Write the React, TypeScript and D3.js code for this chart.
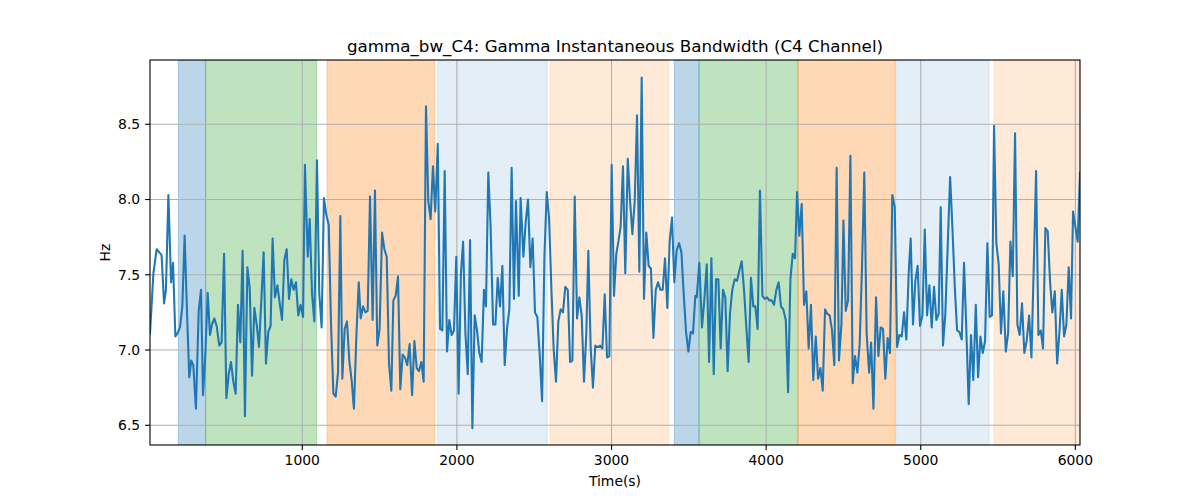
import * as d3 from 'd3';
import React from 'react';

// sample times (s) and gamma bandwidth (Hz)
const timeSec: number[] = [
  15, 37, 58, 90, 106, 118, 134, 151, 164, 179, 192, 209, 224, 239, 256, 269, 282, 295, 312, 330,
  345, 358, 373, 388, 403, 416, 431, 446, 463, 478, 494, 509, 524, 539, 554, 569, 584, 599, 614, 629,
  645, 660, 675, 690, 705, 720, 735, 750, 765, 780, 795, 808, 823, 839, 854, 869, 884, 899, 914, 929,
  944, 959, 974, 989, 1005, 1017, 1035, 1048, 1063, 1078, 1095, 1110, 1125, 1140, 1155, 1171, 1186, 1201, 1216, 1231,
  1246, 1259, 1274, 1289, 1304, 1319, 1334, 1350, 1365, 1378, 1393, 1408, 1423, 1438, 1455, 1470, 1485, 1500, 1516, 1531,
  1546, 1561, 1576, 1589, 1604, 1619, 1634, 1649, 1664, 1679, 1694, 1710, 1725, 1740, 1755, 1770, 1785, 1800, 1815, 1830,
  1845, 1860, 1876, 1891, 1906, 1921, 1936, 1951, 1966, 1981, 1996, 2011, 2026, 2040, 2055, 2070, 2085, 2100, 2115, 2130,
  2145, 2160, 2175, 2188, 2203, 2218, 2234, 2249, 2264, 2279, 2294, 2309, 2324, 2339, 2354, 2369, 2382, 2400, 2412, 2430,
  2445, 2460, 2475, 2490, 2505, 2520, 2535, 2551, 2566, 2581, 2596, 2611, 2626, 2641, 2656, 2671, 2686, 2701, 2717, 2732,
  2747, 2762, 2777, 2792, 2807, 2822, 2837, 2850, 2865, 2880, 2895, 2911, 2926, 2941, 2956, 2971, 2986, 3001, 3016, 3031,
  3046, 3059, 3074, 3089, 3105, 3120, 3135, 3150, 3165, 3180, 3195, 3210, 3225, 3240, 3255, 3271, 3286, 3301, 3316, 3331,
  3346, 3361, 3376, 3391, 3406, 3421, 3437, 3452, 3467, 3482, 3497, 3512, 3527, 3542, 3551, 3568, 3585, 3600, 3616, 3631,
  3646, 3661, 3676, 3691, 3706, 3721, 3736, 3751, 3766, 3781, 3797, 3812, 3827, 3842, 3857, 3872, 3887, 3902, 3917, 3930,
  3945, 3960, 3976, 3991, 4006, 4021, 4036, 4051, 4066, 4081, 4096, 4111, 4127, 4142, 4157, 4172, 4187, 4200, 4215, 4230,
  4245, 4260, 4275, 4290, 4305, 4321, 4336, 4351, 4366, 4381, 4396, 4411, 4426, 4441, 4456, 4471, 4487, 4500, 4515, 4530,
  4545, 4560, 4575, 4590, 4605, 4620, 4635, 4650, 4666, 4679, 4694, 4711, 4726, 4741, 4756, 4771, 4786, 4801, 4816, 4832,
  4847, 4862, 4877, 4892, 4907, 4922, 4935, 4950, 4965, 4980, 4995, 5011, 5026, 5041, 5056, 5071, 5086, 5101, 5116, 5129,
  5144, 5159, 5174, 5190, 5205, 5220, 5235, 5250, 5265, 5280, 5295, 5310, 5325, 5340, 5356, 5371, 5386, 5401, 5416, 5431,
  5446, 5461, 5474, 5489, 5504, 5519, 5534, 5550, 5565, 5580, 5595, 5610, 5625, 5640, 5655, 5670, 5685, 5701, 5716, 5731,
  5746, 5761, 5776, 5791, 5806, 5821, 5836, 5851, 5867, 5882, 5897, 5912, 5927, 5942, 5957, 5972, 5985, 6000, 6015, 6030,
];

const gammaBw: number[] = [
  7.11, 7.51, 7.67, 7.63, 7.31, 7.4, 8.03, 7.45, 7.58, 7.09, 7.11, 7.15, 7.29, 7.76, 7.2, 6.82, 6.93, 6.9, 6.61, 7.26,
  7.4, 6.7, 6.97, 7.38, 7.1, 7.17, 7.21, 7.16, 7.03, 7.05, 7.64, 6.68, 6.84, 6.92, 6.79, 6.71, 7.3, 7.05, 7.66, 6.56,
  7.55, 7.41, 6.83, 7.28, 7.17, 7.02, 7.33, 7.65, 6.91, 7.12, 7.16, 7.74, 7.35, 7.43, 7.31, 7.2, 7.6, 7.67, 7.34, 7.47,
  7.4, 7.45, 7.23, 7.3, 7.22, 8.23, 7.62, 7.87, 7.37, 7.19, 8.26, 7.37, 7.15, 8.01, 7.9, 7.83, 7.17, 6.71, 6.69, 6.85,
  7.89, 6.81, 7.14, 7.19, 6.93, 6.8, 6.61, 7.1, 7.45, 7.21, 7.29, 7.25, 7.26, 8.02, 7.2, 8.06, 7.03, 7.14, 7.78, 7.67,
  7.62, 6.91, 6.73, 7.33, 7.36, 7.49, 6.74, 6.97, 6.95, 6.9, 7.04, 6.7, 7.06, 6.88, 6.86, 6.92, 6.79, 8.62, 7.99, 7.87,
  8.22, 7.92, 8.37, 7.14, 7.13, 8.19, 6.99, 7.2, 7.1, 7.13, 7.62, 6.71, 7.51, 7.72, 7.11, 6.84, 7.73, 6.48, 7.23, 7.13,
  6.98, 6.92, 7.4, 7.29, 8.18, 7.82, 7.17, 7.17, 7.48, 7.29, 7.56, 6.9, 7.14, 7.27, 8.21, 7.34, 7.99, 7.36, 8.01, 7.62,
  7.85, 8.0, 7.55, 7.74, 7.25, 7.22, 6.98, 6.66, 7.62, 8.05, 7.88, 7.41, 7.0, 6.79, 7.19, 7.27, 7.25, 7.42, 7.4, 6.92,
  6.93, 8.02, 7.21, 7.35, 7.23, 6.79, 7.11, 7.66, 7.02, 6.75, 7.03, 7.02, 7.03, 7.01, 7.37, 6.95, 6.96, 8.23, 7.36, 7.64,
  7.73, 7.82, 8.22, 7.51, 8.27, 7.99, 7.77, 7.99, 8.56, 7.52, 8.81, 7.34, 7.78, 7.56, 7.54, 7.08, 7.4, 7.45, 7.4, 7.4,
  7.61, 7.28, 7.72, 7.88, 7.45, 7.66, 7.71, 7.65, 7.37, 7.12, 6.99, 7.12, 7.11, 7.36, 7.35, 7.58, 7.15, 7.33, 7.57, 6.92,
  7.61, 6.84, 7.47, 7.47, 7.01, 7.4, 7.35, 6.86, 7.24, 7.4, 7.47, 7.46, 7.53, 7.59, 7.4, 7.15, 6.92, 7.48, 7.29, 7.29,
  7.14, 8.06, 7.36, 7.34, 7.35, 7.33, 7.33, 7.3, 7.4, 7.45, 7.29, 7.27, 7.2, 6.72, 7.47, 7.64, 7.61, 8.05, 7.76, 7.97,
  7.3, 7.39, 7.01, 7.3, 6.8, 7.09, 6.81, 6.88, 6.73, 7.27, 7.24, 7.23, 7.13, 6.9, 8.21, 6.93, 7.17, 7.86, 7.26, 7.33,
  8.29, 6.78, 6.96, 6.85, 7.04, 7.55, 8.18, 7.11, 6.85, 7.05, 6.61, 7.35, 6.96, 7.15, 7.14, 6.81, 7.08, 6.98, 8.03, 7.95,
  7.02, 7.1, 7.09, 7.25, 7.07, 7.51, 7.74, 7.17, 7.46, 7.56, 7.16, 7.23, 7.8, 7.23, 7.43, 7.15, 7.42, 7.2, 7.24, 7.95,
  7.03, 7.24, 7.68, 8.15, 7.81, 7.42, 7.13, 7.12, 7.07, 7.58, 7.13, 6.64, 7.1, 6.8, 7.3, 6.82, 7.09, 6.98, 7.06, 7.71,
  7.22, 7.23, 8.49, 7.71, 7.57, 7.11, 7.39, 6.99, 7.11, 7.72, 7.49, 8.44, 7.17, 7.1, 7.31, 6.98, 7.06, 7.23, 6.95, 7.56,
  8.19, 7.1, 7.13, 7.01, 7.81, 7.79, 7.46, 7.25, 7.39, 6.91, 7.12, 7.4, 7.09, 7.17, 7.55, 7.21, 7.92, 7.82, 7.72, 8.18,
];

// shaded segments
const bandStart: number[] = [198, 375, 1160, 1876, 2602, 3406, 3566, 4206, 4838, 5474];
const bandEnd: number[] = [375, 1093, 1858, 2585, 3370, 3566, 4206, 4834, 5442, 6030];
const bandKind: string[] = ['blue', 'green', 'orange', 'paleBlue', 'paleOrange', 'blue', 'green', 'orange', 'paleBlue', 'paleOrange'];

const xTicks: number[] = [1000, 2000, 3000, 4000, 5000, 6000];
const yTicks: number[] = [6.5, 7.0, 7.5, 8.0, 8.5];

const bandStyle: Record<string, { color: string; opacity: number }> = {
  blue: { color: '#1f77b4', opacity: 0.3 },
  green: { color: '#2ca02c', opacity: 0.3 },
  orange: { color: '#ff7f0e', opacity: 0.3 },
  paleBlue: { color: '#1f77b4', opacity: 0.12 },
  paleOrange: { color: '#ff7f0e', opacity: 0.16 },
};

const width = 1200;
const height = 500;
const margin = { top: 60, right: 120, bottom: 55, left: 150 };
const font = 'DejaVu Sans, sans-serif';

const App: React.FC = () => {
  const x = d3.scaleLinear().domain([15, 6030]).range([margin.left, width - margin.right]);
  const y = d3.scaleLinear().domain([6.369, 8.927]).range([height - margin.bottom, margin.top]);
  const left = margin.left;
  const right = width - margin.right;
  const top = margin.top;
  const bottom = height - margin.bottom;

  const points = timeSec.map((t, i) => [t, gammaBw[i]] as [number, number]);
  const line = d3
    .line<[number, number]>()
    .x((d) => x(d[0]))
    .y((d) => y(d[1]));

  return (
    <svg width={width} height={height} style={{ position: 'absolute', left: 0, top: 0, background: '#fff' }}>
      <defs>
        <clipPath id="plot">
          <rect x={left} y={top} width={right - left} height={bottom - top} />
        </clipPath>
      </defs>
      <g clipPath="url(#plot)">
        {bandStart.map((s, i) => {
          const st = bandStyle[bandKind[i]];
          return (
            <rect
              key={i}
              x={x(s)}
              y={top}
              width={x(bandEnd[i]) - x(s)}
              height={bottom - top}
              fill={st.color}
              fillOpacity={st.opacity}
              stroke={st.color}
              strokeOpacity={st.opacity}
              strokeWidth={1}
            />
          );
        })}
        {xTicks.map((t) => (
          <line key={t} x1={x(t)} x2={x(t)} y1={top} y2={bottom} stroke="#b0b0b0" strokeWidth={1.1} />
        ))}
        {yTicks.map((t) => (
          <line key={t} x1={left} x2={right} y1={y(t)} y2={y(t)} stroke="#b0b0b0" strokeWidth={1.1} />
        ))}
        <path d={line(points) || ''} fill="none" stroke="#1f77b4" strokeWidth={2.08} strokeLinejoin="round" strokeLinecap="square" />
      </g>
      <rect x={left} y={top} width={right - left} height={bottom - top} fill="none" stroke="#000" strokeWidth={1.1} />
      {xTicks.map((t) => (
        <g key={t}>
          <line x1={x(t)} x2={x(t)} y1={bottom} y2={bottom + 4.9} stroke="#000" strokeWidth={1.1} />
          <text x={x(t)} y={bottom + 20} textAnchor="middle" fontFamily={font} fontSize={13.9} fill="#000">
            {t}
          </text>
        </g>
      ))}
      {yTicks.map((t) => (
        <g key={t}>
          <line x1={left - 4.9} x2={left} y1={y(t)} y2={y(t)} stroke="#000" strokeWidth={1.1} />
          <text x={left - 9.8} y={y(t)} dy="0.35em" textAnchor="end" fontFamily={font} fontSize={13.9} fill="#000">
            {t.toFixed(1)}
          </text>
        </g>
      ))}
      <text x={(left + right) / 2} y={top - 8.5} textAnchor="middle" fontFamily={font} fontSize={16.7} fill="#000">
        gamma_bw_C4: Gamma Instantaneous Bandwidth (C4 Channel)
      </text>
      <text x={(left + right) / 2} y={486} textAnchor="middle" fontFamily={font} fontSize={13.9} fill="#000">
        Time(s)
      </text>
      <text
        transform={`translate(110,${(top + bottom) / 2}) rotate(-90)`}
        textAnchor="middle"
        fontFamily={font}
        fontSize={13.9}
        fill="#000"
      >
        Hz
      </text>
    </svg>
  );
};

export default App;
